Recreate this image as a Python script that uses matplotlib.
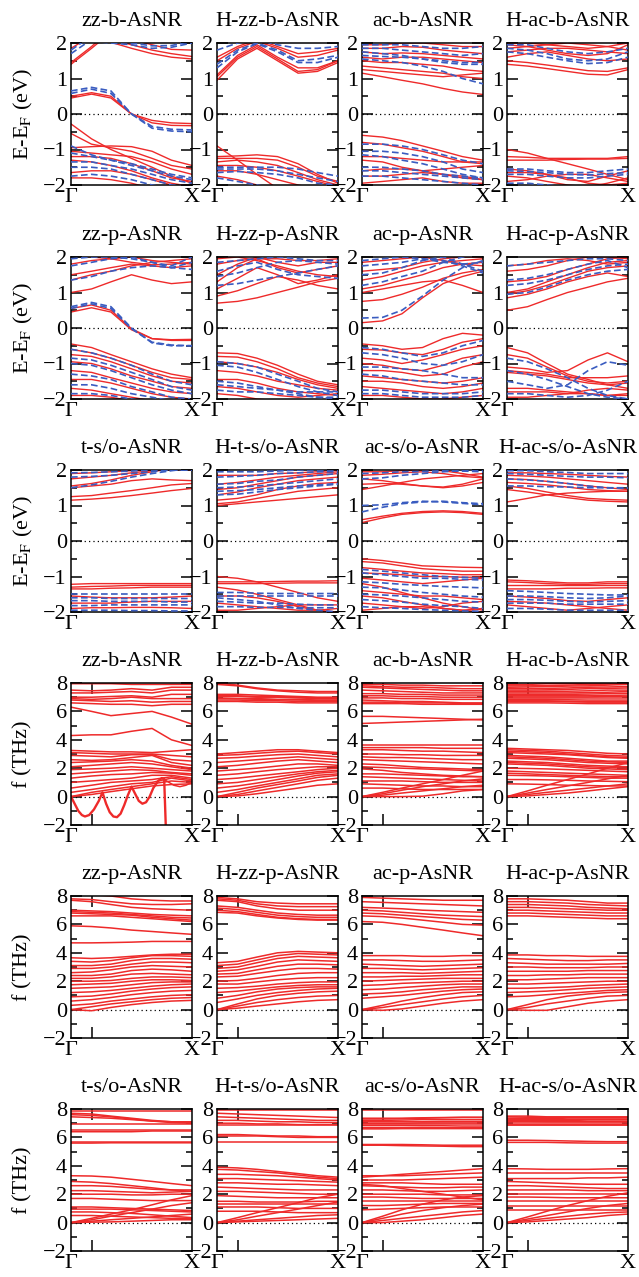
import matplotlib
matplotlib.use("Agg")
import matplotlib.pyplot as plt
from matplotlib.ticker import MultipleLocator

plt.rcParams["font.family"] = ["Liberation Serif", "DejaVu Serif"]
plt.rcParams["mathtext.fontset"] = "stix"

# k-points along Gamma -> X (fraction of path)
K_PTS = [0.0, 0.17, 0.33, 0.5, 0.67, 0.83, 1.0]

# ---------------- electronic bands (eV), red = spin up, blue = spin down
zz_b_up = [
    [1.4, 1.85, 2.3, 2.6, 2.6, 2.6, 2.6], [1.45, 1.9, 2.4, 2.6, 2.6, 2.6, 2.6],
    [1.85, 2.2, 2.6, 2.6, 2.6, 2.6, 2.6], [2.6, 2.3, 2.02, 1.85, 1.7, 1.6, 1.55],
    [2.6, 2.4, 2.1, 1.95, 1.8, 1.7, 1.62], [2.6, 2.6, 2.4, 2.1, 1.95, 1.82, 1.8],
    [0.5, 0.6, 0.5, 0.0, -0.18, -0.25, -0.27], [0.45, 0.56, 0.45, 0.0, -0.25, -0.32, -0.33],
    [-0.28, -0.7, -1.0, -1.25, -1.5, -1.75, -1.95], [-0.55, -0.85, -0.95, -1.05, -1.25, -1.45, -1.55],
    [-0.95, -0.92, -0.9, -0.92, -1.05, -1.3, -1.45], [-1.05, -1.1, -1.15, -1.2, -1.35, -1.55, -1.7],
    [-1.2, -1.2, -1.25, -1.4, -1.6, -1.8, -1.9], [-1.3, -1.35, -1.45, -1.6, -1.8, -1.95, -2.05],
    [-1.65, -1.6, -1.6, -1.7, -1.85, -2.0, -2.1], [-1.8, -1.8, -1.85, -1.95, -2.1, -2.2, -2.2],
]
zz_b_dn = [
    [1.7, 2.1, 2.5, 2.6, 2.6, 2.6, 2.6], [1.8, 2.2, 2.6, 2.6, 2.6, 2.6, 2.6],
    [2.1, 2.05, 2.0, 1.95, 1.85, 1.88, 2.0], [2.2, 2.1, 2.05, 2.0, 1.92, 1.93, 2.05],
    [0.65, 0.75, 0.65, 0.0, -0.35, -0.43, -0.45], [0.58, 0.7, 0.58, 0.0, -0.4, -0.48, -0.5],
    [-0.9, -1.15, -1.3, -1.45, -1.6, -1.75, -1.85], [-1.1, -1.2, -1.3, -1.4, -1.55, -1.7, -1.8],
    [-1.35, -1.35, -1.45, -1.55, -1.7, -1.85, -1.95], [-1.5, -1.5, -1.55, -1.7, -1.85, -2.0, -2.05],
    [-1.75, -1.7, -1.75, -1.85, -2.0, -2.1, -2.15],
]
h_zz_b_up = [
    [0.95, 1.55, 1.85, 1.5, 1.15, 1.2, 1.45], [1.05, 1.6, 1.9, 1.55, 1.2, 1.25, 1.5],
    [1.1, 1.65, 1.95, 1.6, 1.3, 1.3, 1.5], [1.5, 1.85, 2.05, 1.85, 1.6, 1.65, 1.8],
    [1.6, 1.9, 2.1, 1.9, 1.7, 1.75, 1.85],
    [-0.9, -1.3, -1.7, -2.1, -2.3, -2.3, -2.3], [-1.2, -1.18, -1.15, -1.2, -1.4, -1.7, -1.95],
    [-1.25, -1.25, -1.25, -1.3, -1.5, -1.75, -1.9], [-1.35, -1.3, -1.35, -1.45, -1.65, -1.85, -2.0],
    [-1.45, -1.45, -1.5, -1.6, -1.75, -1.9, -2.05], [-1.6, -1.6, -1.7, -1.85, -2.0, -2.1, -2.1],
    [-1.75, -1.85, -2.0, -2.1, -2.2, -2.2, -2.2],
]
h_zz_b_dn = [
    [1.3, 1.75, 1.98, 1.75, 1.45, 1.45, 1.6], [1.4, 1.8, 2.0, 1.8, 1.5, 1.55, 1.65],
    [1.8, 2.0, 2.1, 1.95, 1.85, 1.85, 1.9],
    [-1.5, -1.5, -1.5, -1.5, -1.55, -1.65, -1.75], [-1.55, -1.55, -1.55, -1.6, -1.7, -1.8, -1.9],
    [-1.65, -1.62, -1.65, -1.7, -1.8, -1.95, -2.0], [-1.8, -1.9, -2.0, -2.1, -2.2, -2.2, -2.2],
]
ac_b_up = [
    [1.15, 1.05, 0.95, 0.85, 0.72, 0.62, 0.55], [1.25, 1.2, 1.15, 1.1, 1.05, 1.1, 1.15],
    [1.35, 1.3, 1.25, 1.2, 1.15, 1.05, 1.0], [1.5, 1.45, 1.45, 1.4, 1.35, 1.25, 1.2],
    [1.6, 1.55, 1.6, 1.6, 1.55, 1.5, 1.45], [1.75, 1.7, 1.72, 1.7, 1.65, 1.6, 1.55],
    [1.85, 1.85, 1.9, 1.88, 1.8, 1.75, 1.7], [1.95, 1.95, 2.0, 2.0, 1.95, 1.9, 1.9],
    [-0.6, -0.65, -0.75, -0.9, -1.05, -1.2, -1.3], [-0.8, -0.85, -0.95, -1.05, -1.2, -1.35, -1.4],
    [-1.2, -1.2, -1.25, -1.3, -1.35, -1.35, -1.35], [-1.3, -1.35, -1.5, -1.6, -1.55, -1.5, -1.45],
    [-1.6, -1.55, -1.55, -1.6, -1.7, -1.8, -1.85], [-1.75, -1.75, -1.7, -1.65, -1.7, -1.75, -1.85],
    [-1.95, -1.9, -1.85, -1.8, -1.9, -1.95, -1.95],
]
ac_b_dn = [
    [1.55, 1.5, 1.45, 1.35, 1.2, 1.0, 0.85], [1.75, 1.7, 1.65, 1.55, 1.45, 1.4, 1.4],
    [1.85, 1.85, 1.8, 1.75, 1.7, 1.65, 1.7], [1.95, 1.95, 1.95, 1.9, 1.85, 1.85, 1.9],
    [1.65, 1.62, 1.6, 1.55, 1.5, 1.45, 1.45],
    [-0.85, -0.85, -0.9, -1.0, -1.15, -1.3, -1.4], [-1.05, -1.05, -1.1, -1.2, -1.35, -1.55, -1.65],
    [-1.15, -1.2, -1.3, -1.4, -1.55, -1.7, -1.8], [-1.6, -1.6, -1.65, -1.7, -1.75, -1.8, -1.85],
    [-1.75, -1.75, -1.8, -1.85, -1.9, -1.95, -2.0], [-1.5, -1.5, -1.55, -1.6, -1.7, -1.75, -1.8],
]
h_ac_b_up = [
    [1.4, 1.35, 1.28, 1.2, 1.12, 1.1, 1.25], [1.5, 1.45, 1.38, 1.3, 1.22, 1.2, 1.3],
    [1.6, 1.7, 1.75, 1.65, 1.55, 1.5, 1.55], [1.75, 1.8, 1.85, 1.85, 1.8, 1.75, 1.7],
    [1.85, 1.9, 1.95, 2.0, 1.95, 1.9, 1.8], [1.95, 1.9, 1.8, 1.7, 1.65, 1.7, 1.95],
    [2.0, 2.0, 1.95, 1.9, 1.85, 1.9, 2.0],
    [-1.0, -1.1, -1.25, -1.4, -1.55, -1.7, -1.85], [-1.2, -1.22, -1.25, -1.25, -1.25, -1.25, -1.2],
    [-1.3, -1.3, -1.3, -1.28, -1.27, -1.27, -1.25], [-1.55, -1.6, -1.7, -1.85, -1.9, -1.75, -1.6],
    [-1.65, -1.65, -1.7, -1.8, -1.95, -2.0, -1.95], [-1.9, -1.85, -1.75, -1.7, -1.7, -1.8, -1.9],
    [-1.75, -1.8, -1.9, -2.0, -2.05, -1.95, -1.8],
]
h_ac_b_dn = [
    [1.75, 1.7, 1.6, 1.5, 1.42, 1.45, 1.6], [1.85, 1.8, 1.7, 1.55, 1.5, 1.55, 1.75],
    [1.95, 1.95, 1.85, 1.75, 1.7, 1.75, 1.85],
    [-1.55, -1.55, -1.6, -1.65, -1.65, -1.6, -1.55], [-1.6, -1.62, -1.65, -1.7, -1.72, -1.68, -1.65],
    [-1.7, -1.7, -1.75, -1.8, -1.8, -1.75, -1.7], [-1.95, -1.95, -2.0, -2.05, -2.1, -2.1, -2.1],
]
zz_p_up = [
    [1.0, 1.1, 1.3, 1.5, 1.35, 1.25, 1.3], [1.35, 1.5, 1.6, 1.75, 1.85, 1.9, 1.95],
    [1.5, 1.6, 1.7, 1.8, 1.75, 1.7, 1.75], [1.8, 1.9, 1.95, 2.0, 1.9, 1.85, 1.8],
    [2.05, 2.0, 1.95, 1.85, 1.78, 1.8, 1.85],
    [0.55, 0.65, 0.5, -0.02, -0.3, -0.35, -0.35], [0.45, 0.57, 0.45, -0.05, -0.3, -0.33, -0.32],
    [-0.45, -0.55, -0.75, -0.95, -1.15, -1.3, -1.4], [-0.6, -0.7, -0.85, -1.05, -1.25, -1.4, -1.45],
    [-0.75, -0.8, -0.95, -1.15, -1.35, -1.5, -1.55], [-0.95, -1.0, -1.15, -1.35, -1.5, -1.65, -1.7],
    [-1.2, -1.25, -1.4, -1.55, -1.7, -1.8, -1.85], [-1.45, -1.45, -1.55, -1.7, -1.85, -1.95, -2.0],
    [-1.7, -1.75, -1.85, -1.95, -2.05, -2.1, -2.1], [-1.9, -1.9, -1.95, -2.05, -2.1, -2.1, -2.1],
]
zz_p_dn = [
    [1.35, 1.45, 1.6, 1.7, 1.75, 1.7, 1.85], [1.75, 1.85, 1.95, 2.0, 1.85, 1.7, 1.65],
    [1.95, 2.0, 2.0, 1.95, 1.85, 1.75, 2.0],
    [0.6, 0.72, 0.6, 0.0, -0.42, -0.5, -0.5], [0.55, 0.68, 0.55, -0.02, -0.4, -0.48, -0.5],
    [-0.6, -0.7, -0.85, -1.05, -1.3, -1.5, -1.6], [-0.85, -0.9, -1.05, -1.25, -1.45, -1.65, -1.75],
    [-1.0, -1.05, -1.2, -1.4, -1.6, -1.75, -1.85], [-1.3, -1.35, -1.45, -1.65, -1.8, -1.95, -2.0],
    [-1.6, -1.6, -1.7, -1.85, -1.95, -2.05, -2.1], [-1.85, -1.85, -1.9, -2.0, -2.1, -2.1, -2.1],
]
h_zz_p_up = [
    [0.7, 0.75, 0.85, 1.0, 1.15, 1.3, 1.4], [0.9, 1.05, 1.25, 1.45, 1.35, 1.2, 1.1],
    [1.1, 1.4, 1.7, 1.5, 1.25, 1.35, 1.5], [1.3, 1.7, 1.95, 1.7, 1.55, 1.65, 1.75],
    [1.5, 1.8, 2.0, 1.85, 1.75, 1.85, 1.85], [1.8, 1.9, 1.95, 1.95, 1.9, 1.9, 1.95],
    [1.95, 2.0, 1.9, 1.75, 1.6, 1.5, 1.45],
    [-0.7, -0.72, -0.85, -1.05, -1.3, -1.5, -1.6], [-0.8, -0.82, -0.95, -1.15, -1.4, -1.55, -1.65],
    [-0.95, -1.0, -1.1, -1.25, -1.45, -1.6, -1.7], [-1.2, -1.25, -1.35, -1.5, -1.6, -1.7, -1.75],
    [-1.45, -1.45, -1.55, -1.7, -1.8, -1.85, -1.9], [-1.65, -1.7, -1.8, -1.9, -1.95, -1.9, -1.85],
    [-1.85, -1.9, -2.0, -2.05, -2.1, -2.1, -2.1],
]
h_zz_p_dn = [
    [1.2, 1.25, 1.35, 1.45, 1.55, 1.65, 1.75], [1.45, 1.55, 1.7, 1.85, 1.9, 1.85, 1.8],
    [1.6, 1.75, 1.85, 1.65, 1.5, 1.45, 1.4], [1.85, 1.9, 1.95, 2.0, 1.95, 1.9, 1.9],
    [-0.95, -1.0, -1.1, -1.3, -1.5, -1.7, -1.8], [-1.05, -1.1, -1.25, -1.45, -1.65, -1.8, -1.9],
    [-1.5, -1.55, -1.65, -1.75, -1.85, -1.95, -2.0], [-1.75, -1.8, -1.8, -1.85, -1.9, -1.95, -1.95],
    [-1.6, -1.65, -1.7, -1.75, -1.8, -1.8, -1.8],
]
ac_p_up = [
    [0.15, 0.2, 0.4, 0.85, 1.25, 1.45, 1.6], [1.0, 1.1, 1.2, 1.3, 1.35, 1.2, 1.0],
    [0.75, 0.8, 0.95, 1.15, 1.4, 1.55, 1.65], [1.1, 1.2, 1.35, 1.5, 1.7, 1.8, 1.85],
    [1.35, 1.45, 1.6, 1.75, 1.85, 1.9, 1.95], [1.6, 1.65, 1.7, 1.85, 1.95, 2.0, 2.0],
    [1.85, 1.9, 1.95, 2.0, 1.9, 1.8, 1.75],
    [-0.45, -0.5, -0.6, -0.55, -0.3, -0.15, -0.2], [-0.6, -0.62, -0.7, -0.75, -0.6, -0.4, -0.3],
    [-0.85, -0.9, -1.0, -0.9, -0.75, -0.6, -0.5], [-1.0, -1.05, -1.15, -1.2, -1.05, -0.85, -0.75],
    [-1.2, -1.2, -1.25, -1.35, -1.3, -1.1, -0.95], [-1.35, -1.4, -1.45, -1.5, -1.55, -1.5, -1.4],
    [-1.5, -1.5, -1.55, -1.65, -1.7, -1.65, -1.55], [-1.65, -1.7, -1.75, -1.8, -1.85, -1.8, -1.7],
    [-1.9, -1.9, -1.95, -2.0, -2.0, -1.95, -1.9],
]
ac_p_dn = [
    [0.28, 0.3, 0.5, 0.9, 1.35, 1.7, 1.9], [1.2, 1.3, 1.45, 1.6, 1.85, 2.0, 2.1],
    [1.5, 1.55, 1.7, 1.9, 2.0, 1.8, 1.6], [1.75, 1.8, 1.85, 1.95, 1.9, 1.75, 1.55],
    [1.9, 1.95, 2.0, 1.95, 1.85, 1.8, 1.85],
    [-0.55, -0.6, -0.7, -0.8, -0.7, -0.5, -0.35], [-0.7, -0.75, -0.85, -1.0, -1.05, -0.95, -0.75],
    [-1.1, -1.1, -1.15, -1.2, -1.3, -1.4, -1.4], [-1.3, -1.35, -1.45, -1.5, -1.55, -1.6, -1.6],
    [-1.75, -1.75, -1.8, -1.85, -1.85, -1.85, -1.8], [-1.85, -1.85, -1.9, -1.95, -1.95, -1.95, -1.9],
]
h_ac_p_up = [
    [0.5, 0.6, 0.8, 1.0, 1.15, 1.3, 1.4], [0.85, 0.95, 1.1, 1.3, 1.45, 1.55, 1.45],
    [0.95, 1.05, 1.2, 1.4, 1.6, 1.7, 1.75], [1.0, 1.1, 1.3, 1.5, 1.7, 1.85, 1.9],
    [1.3, 1.35, 1.45, 1.65, 1.8, 1.95, 2.0], [1.6, 1.65, 1.75, 1.9, 2.0, 2.0, 1.95],
    [1.75, 1.8, 1.9, 1.95, 1.9, 1.8, 1.85],
    [-0.55, -0.7, -1.0, -1.3, -1.45, -1.6, -1.7], [-0.75, -0.85, -1.1, -1.35, -1.5, -1.55, -1.5],
    [-1.1, -1.15, -1.25, -1.2, -0.9, -0.7, -0.95], [-1.2, -1.25, -1.3, -1.4, -1.4, -1.4, -1.35],
    [-1.25, -1.3, -1.35, -1.45, -1.55, -1.6, -1.55], [-1.7, -1.7, -1.75, -1.8, -1.85, -1.9, -1.9],
    [-1.8, -1.8, -1.8, -1.85, -1.75, -1.7, -1.75], [-1.95, -1.95, -1.9, -1.85, -1.85, -1.9, -1.85],
]
h_ac_p_dn = [
    [1.2, 1.25, 1.35, 1.5, 1.65, 1.75, 1.8], [1.35, 1.4, 1.5, 1.65, 1.8, 1.9, 1.7],
    [0.95, 1.0, 1.15, 1.35, 1.5, 1.6, 1.65], [1.75, 1.8, 1.85, 1.9, 1.95, 1.95, 1.9],
    [-0.85, -0.95, -1.15, -1.4, -1.7, -1.9, -2.0], [-1.5, -1.6, -1.7, -1.6, -1.2, -0.95, -1.05],
    [-1.2, -1.3, -1.45, -1.65, -1.85, -1.95, -2.0], [-1.85, -1.85, -1.9, -1.95, -1.9, -1.75, -1.5],
]
t_so_up = [
    [1.15, 1.18, 1.22, 1.28, 1.35, 1.42, 1.48], [1.25, 1.28, 1.35, 1.42, 1.5, 1.58, 1.62],
    [1.5, 1.55, 1.6, 1.7, 1.75, 1.72, 1.7], [1.55, 1.62, 1.72, 1.85, 1.95, 2.05, 2.1],
    [1.75, 1.8, 1.85, 1.92, 1.98, 2.0, 2.0], [1.9, 1.92, 1.95, 1.98, 2.0, 2.05, 2.1],
    [-1.22, -1.2, -1.2, -1.2, -1.2, -1.2, -1.2], [-1.3, -1.28, -1.27, -1.25, -1.25, -1.25, -1.25],
    [-1.35, -1.35, -1.33, -1.32, -1.3, -1.3, -1.3], [-1.55, -1.58, -1.6, -1.6, -1.6, -1.58, -1.55],
    [-1.75, -1.75, -1.75, -1.72, -1.7, -1.7, -1.7], [-1.9, -1.88, -1.88, -1.87, -1.87, -1.88, -1.9],
]
t_so_dn = [
    [1.5, 1.58, 1.68, 1.8, 1.9, 1.98, 2.05], [1.8, 1.82, 1.85, 1.9, 1.95, 2.0, 2.0],
    [1.92, 1.93, 1.95, 1.97, 2.0, 2.0, 2.0],
    [-1.5, -1.5, -1.5, -1.5, -1.5, -1.5, -1.5], [-1.6, -1.6, -1.62, -1.62, -1.62, -1.62, -1.62],
    [-1.68, -1.68, -1.7, -1.7, -1.7, -1.72, -1.72], [-1.82, -1.82, -1.8, -1.8, -1.8, -1.8, -1.8],
    [-1.95, -1.95, -1.95, -1.96, -1.96, -1.97, -1.97],
]
h_t_so_up = [
    [1.0, 1.05, 1.1, 1.15, 1.2, 1.25, 1.3], [1.05, 1.1, 1.2, 1.3, 1.4, 1.45, 1.5],
    [1.15, 1.2, 1.3, 1.45, 1.55, 1.62, 1.65], [1.3, 1.38, 1.5, 1.6, 1.7, 1.75, 1.8],
    [1.45, 1.5, 1.6, 1.7, 1.8, 1.85, 1.9], [1.6, 1.65, 1.72, 1.8, 1.85, 1.9, 1.95],
    [1.85, 1.85, 1.85, 1.9, 1.92, 1.95, 2.0],
    [-1.0, -1.05, -1.15, -1.3, -1.45, -1.6, -1.7], [-1.15, -1.15, -1.15, -1.14, -1.13, -1.13, -1.12],
    [-1.2, -1.2, -1.2, -1.19, -1.18, -1.18, -1.18], [-1.3, -1.38, -1.5, -1.65, -1.8, -1.95, -2.0],
    [-1.55, -1.55, -1.6, -1.7, -1.85, -1.95, -2.05], [-1.75, -1.8, -1.85, -1.9, -1.95, -1.95, -1.9],
    [-1.95, -1.95, -1.9, -1.85, -1.8, -1.8, -1.8],
]
h_t_so_dn = [
    [1.3, 1.32, 1.38, 1.45, 1.5, 1.55, 1.6], [1.5, 1.52, 1.55, 1.6, 1.65, 1.7, 1.75],
    [1.6, 1.62, 1.68, 1.72, 1.8, 1.85, 1.9], [1.8, 1.82, 1.85, 1.9, 1.92, 1.95, 1.95],
    [1.95, 1.95, 1.95, 1.97, 2.0, 2.0, 2.0], [1.4, 1.42, 1.45, 1.5, 1.55, 1.58, 1.62],
    [-1.45, -1.45, -1.47, -1.48, -1.48, -1.48, -1.48], [-1.55, -1.55, -1.55, -1.55, -1.55, -1.55, -1.55],
    [-1.7, -1.72, -1.75, -1.75, -1.78, -1.8, -1.8], [-1.85, -1.85, -1.87, -1.87, -1.88, -1.88, -1.88],
    [-1.6, -1.65, -1.7, -1.8, -1.9, -1.95, -2.0],
]
ac_so_up = [
    [0.52, 0.65, 0.75, 0.8, 0.82, 0.8, 0.75], [0.6, 0.7, 0.78, 0.83, 0.85, 0.83, 0.78],
    [1.45, 1.55, 1.65, 1.75, 1.8, 1.85, 1.9], [1.6, 1.62, 1.6, 1.55, 1.5, 1.55, 1.65],
    [1.75, 1.7, 1.62, 1.55, 1.52, 1.6, 1.75], [1.85, 1.88, 1.92, 1.95, 1.9, 1.82, 1.78],
    [1.95, 1.95, 1.98, 2.0, 1.98, 1.9, 1.8],
    [-0.5, -0.55, -0.62, -0.7, -0.72, -0.74, -0.75], [-0.58, -0.62, -0.7, -0.78, -0.82, -0.85, -0.85],
    [-0.75, -0.8, -0.85, -0.9, -0.92, -0.95, -0.95], [-0.9, -0.92, -0.95, -1.0, -1.0, -1.02, -1.02],
    [-1.05, -1.1, -1.15, -1.2, -1.15, -1.1, -1.05], [-1.2, -1.3, -1.45, -1.6, -1.75, -1.85, -1.95],
    [-1.4, -1.45, -1.5, -1.55, -1.55, -1.6, -1.65], [-1.55, -1.6, -1.7, -1.8, -1.9, -1.95, -1.9],
    [-1.75, -1.8, -1.85, -1.9, -1.85, -1.75, -1.7], [-1.95, -1.9, -1.85, -1.85, -1.9, -1.95, -2.0],
]
ac_so_dn = [
    [0.82, 0.95, 1.05, 1.1, 1.12, 1.08, 1.05], [1.0, 1.02, 1.08, 1.12, 1.1, 1.06, 1.02],
    [1.75, 1.78, 1.85, 1.9, 1.95, 1.98, 2.0], [1.9, 1.92, 1.95, 1.96, 1.98, 1.97, 1.95],
    [-0.8, -0.85, -0.9, -0.95, -1.0, -1.02, -1.05], [-0.9, -0.95, -1.0, -1.05, -1.05, -1.08, -1.1],
    [-1.15, -1.18, -1.22, -1.25, -1.28, -1.3, -1.32], [-1.3, -1.32, -1.38, -1.45, -1.5, -1.55, -1.58],
    [-1.5, -1.52, -1.55, -1.6, -1.65, -1.7, -1.72], [-1.65, -1.68, -1.72, -1.78, -1.82, -1.85, -1.9],
    [-1.85, -1.88, -1.9, -1.93, -1.95, -1.97, -1.98],
]
h_ac_so_up = [
    [1.1, 1.2, 1.3, 1.35, 1.38, 1.4, 1.4], [1.45, 1.38, 1.3, 1.22, 1.15, 1.12, 1.1],
    [1.55, 1.48, 1.38, 1.28, 1.2, 1.17, 1.15], [1.65, 1.62, 1.58, 1.52, 1.45, 1.42, 1.4],
    [1.75, 1.73, 1.68, 1.62, 1.55, 1.5, 1.45], [1.85, 1.83, 1.8, 1.75, 1.7, 1.65, 1.6],
    [1.92, 1.92, 1.9, 1.88, 1.85, 1.82, 1.8],
    [-1.1, -1.12, -1.15, -1.18, -1.18, -1.15, -1.15], [-1.15, -1.17, -1.2, -1.22, -1.22, -1.2, -1.2],
    [-1.25, -1.25, -1.25, -1.25, -1.25, -1.25, -1.25], [-1.35, -1.35, -1.35, -1.33, -1.33, -1.32, -1.32],
    [-1.55, -1.58, -1.62, -1.68, -1.7, -1.65, -1.6], [-1.7, -1.72, -1.75, -1.8, -1.85, -1.9, -1.95],
    [-1.8, -1.85, -1.9, -1.95, -1.9, -1.85, -1.8],
]
h_ac_so_dn = [
    [1.55, 1.55, 1.53, 1.52, 1.5, 1.5, 1.48], [1.75, 1.72, 1.68, 1.62, 1.55, 1.5, 1.5],
    [1.9, 1.88, 1.85, 1.82, 1.8, 1.8, 1.78], [1.98, 1.98, 1.95, 1.93, 1.9, 1.9, 1.9],
    [-1.4, -1.42, -1.45, -1.48, -1.5, -1.52, -1.52], [-1.55, -1.55, -1.57, -1.6, -1.62, -1.6, -1.55],
    [-1.65, -1.65, -1.67, -1.7, -1.72, -1.7, -1.68], [-1.75, -1.75, -1.75, -1.78, -1.78, -1.78, -1.78],
    [-1.9, -1.9, -1.92, -1.95, -1.95, -1.95, -1.95],
]

# ---------------- phonon bands (THz)
ph_zz_b = [
    [7.95, 7.95, 7.95, 7.9, 7.9, 7.9, 7.9], [7.5, 7.45, 7.5, 7.6, 7.5, 7.7, 7.7],
    [7.3, 7.3, 7.35, 7.4, 7.3, 7.5, 7.5], [7.0, 7.0, 7.05, 7.1, 7.0, 7.2, 7.2],
    [6.9, 6.85, 6.9, 7.0, 6.9, 6.9, 6.9], [6.8, 6.75, 6.7, 6.75, 6.65, 6.7, 6.7],
    [6.6, 6.55, 6.5, 6.5, 6.4, 6.5, 6.5], [6.3, 6.0, 5.7, 5.85, 6.0, 5.6, 5.1],
    [4.3, 4.35, 4.35, 4.6, 4.8, 4.0, 3.6], [3.25, 3.2, 3.15, 3.15, 3.1, 3.2, 3.3],
    [3.1, 3.05, 3.0, 3.0, 3.0, 2.9, 2.8], [2.9, 2.85, 2.8, 2.95, 2.95, 2.6, 2.5],
    [2.6, 2.55, 2.6, 2.75, 2.9, 2.4, 2.2], [2.4, 2.45, 2.5, 2.6, 2.5, 2.2, 2.0],
    [2.1, 2.2, 2.3, 2.4, 2.3, 2.1, 1.9], [1.9, 1.95, 2.0, 2.1, 2.0, 1.9, 1.8],
    [1.6, 1.7, 1.8, 1.9, 1.85, 1.7, 1.6], [1.3, 1.45, 1.55, 1.6, 1.7, 1.65, 1.5],
    [1.0, 1.1, 1.2, 1.3, 1.5, 1.5, 1.3], [0.6, 0.8, 1.0, 1.1, 1.2, 1.4, 1.2],
    [0.3, 0.5, 0.7, 0.9, 1.0, 1.3, 1.1], [0.0, 0.3, 0.5, 0.7, 0.9, 1.1, 1.0],
    [0.0, 0.15, 0.35, 0.55, 0.75, 0.85, 0.9],
]
# soft (imaginary) modes of zz-b-AsNR, read on their own k-points
zz_b_soft_k = [0.0, 0.03, 0.06, 0.09, 0.115, 0.15, 0.19, 0.23, 0.26, 0.29, 0.32, 0.35,
               0.38, 0.41, 0.44, 0.47, 0.5, 0.53, 0.56, 0.59, 0.62, 0.65, 0.68, 0.72,
               0.75, 0.77, 0.775, 0.785]
zz_b_soft_f = [0.0, -0.5, -1.0, -1.3, -1.4, -1.3, -0.9, -0.3, 0.3, -0.5, -1.1, -1.4,
               -1.45, -1.2, -0.6, 0.1, 0.7, 0.2, -0.3, -0.5, -0.4, 0.0, 0.6, 1.1,
               1.3, 1.25, 0.0, -2.5]
zz_b_kink_k = [0.75, 0.8, 0.85, 0.9, 0.95, 1.0]
zz_b_kink_f = [1.3, 1.05, 0.8, 0.7, 0.8, 1.0]

ph_h_zz_b = [
    [8.0, 7.85, 7.65, 7.5, 7.45, 7.4, 7.4], [7.9, 7.8, 7.6, 7.45, 7.35, 7.3, 7.3],
    [7.2, 7.2, 7.15, 7.1, 7.05, 7.0, 7.0], [7.05, 7.05, 7.0, 7.0, 6.95, 6.9, 6.9],
    [6.95, 6.9, 6.9, 6.85, 6.85, 6.8, 6.8], [6.8, 6.8, 6.75, 6.75, 6.7, 6.7, 6.7],
    [6.7, 6.7, 6.65, 6.65, 6.6, 6.6, 6.6], [7.1, 7.1, 7.05, 7.05, 7.0, 6.95, 6.95],
    [6.9, 6.9, 6.85, 6.82, 6.8, 6.78, 6.78],
    [3.0, 3.1, 3.2, 3.3, 3.3, 3.2, 3.1], [2.9, 2.95, 3.05, 3.15, 3.2, 3.1, 3.0],
    [2.7, 2.75, 2.85, 2.95, 3.0, 2.9, 2.8], [2.4, 2.5, 2.6, 2.7, 2.8, 2.7, 2.6],
    [2.1, 2.2, 2.35, 2.5, 2.6, 2.5, 2.4], [1.8, 1.9, 2.0, 2.15, 2.3, 2.3, 2.2],
    [1.5, 1.6, 1.75, 1.9, 2.0, 2.1, 2.1], [1.2, 1.3, 1.45, 1.6, 1.75, 1.9, 2.0],
    [0.9, 1.0, 1.2, 1.4, 1.6, 1.75, 1.85], [0.6, 0.75, 0.95, 1.2, 1.45, 1.65, 1.75],
    [0.3, 0.5, 0.75, 1.0, 1.25, 1.5, 1.6], [0.0, 0.3, 0.6, 0.85, 1.1, 1.35, 1.5],
    [0.0, 0.15, 0.4, 0.65, 0.9, 1.15, 1.3], [0.0, 0.05, 0.2, 0.4, 0.6, 0.8, 0.9],
]
ph_ac_b = [
    [7.9, 7.9, 7.85, 7.85, 7.8, 7.8, 7.8], [7.7, 7.65, 7.6, 7.55, 7.5, 7.45, 7.45],
    [7.5, 7.45, 7.4, 7.35, 7.3, 7.3, 7.3], [7.1, 7.1, 7.05, 7.05, 7.0, 7.0, 7.0],
    [6.95, 6.95, 6.9, 6.9, 6.85, 6.85, 6.85], [6.8, 6.75, 6.7, 6.7, 6.65, 6.6, 6.6],
    [6.55, 6.55, 6.55, 6.5, 6.5, 6.5, 6.5], [7.8, 7.75, 7.7, 7.7, 7.65, 7.6, 7.6],
    [7.25, 7.25, 7.2, 7.2, 7.15, 7.15, 7.15], [6.65, 6.65, 6.6, 6.6, 6.6, 6.55, 6.55],
    [5.65, 5.65, 5.6, 5.55, 5.5, 5.45, 5.4],
    [5.15, 5.2, 5.25, 5.3, 5.35, 5.4, 5.45], [3.6, 3.6, 3.6, 3.6, 3.6, 3.6, 3.6],
    [3.45, 3.45, 3.45, 3.45, 3.4, 3.4, 3.4], [3.3, 3.3, 3.25, 3.2, 3.2, 3.15, 3.1],
    [3.0, 3.0, 2.95, 2.95, 2.9, 2.9, 2.9],
    [2.8, 2.75, 2.75, 2.7, 2.65, 2.6, 2.6], [2.6, 2.55, 2.5, 2.45, 2.4, 2.35, 2.3],
    [2.3, 2.25, 2.15, 2.05, 2.0, 1.95, 1.9], [2.1, 2.05, 2.0, 1.95, 1.9, 1.85, 1.8],
    [1.95, 1.85, 1.7, 1.6, 1.5, 1.45, 1.4], [1.6, 1.6, 1.55, 1.5, 1.45, 1.4, 1.4],
    [1.4, 1.35, 1.3, 1.25, 1.2, 1.15, 1.1], [1.1, 1.1, 1.1, 1.05, 1.0, 1.0, 1.0],
    [0.0, 0.3, 0.6, 0.9, 1.2, 1.5, 1.8], [0.0, 0.2, 0.45, 0.7, 0.9, 1.1, 1.25],
    [0.0, 0.1, 0.25, 0.4, 0.55, 0.7, 0.8], [0.0, 0.0, 0.0, 0.03, 0.2, 0.4, 0.5],
    [0.9, 0.85, 0.8, 0.75, 0.75, 0.7, 0.7], [0.6, 0.6, 0.55, 0.5, 0.5, 0.5, 0.5],
]
ph_h_ac_b = [
    [7.9, 7.9, 7.95, 7.95, 8.0, 8.0, 8.0], [7.7, 7.72, 7.75, 7.78, 7.8, 7.85, 7.9],
    [7.5, 7.5, 7.52, 7.55, 7.6, 7.62, 7.65], [7.3, 7.3, 7.3, 7.3, 7.32, 7.35, 7.4],
    [7.1, 7.1, 7.1, 7.1, 7.1, 7.12, 7.15], [6.95, 6.95, 6.95, 6.95, 6.95, 6.95, 6.95],
    [6.85, 6.85, 6.85, 6.82, 6.8, 6.8, 6.8], [6.7, 6.7, 6.7, 6.68, 6.65, 6.65, 6.65],
    [6.6, 6.6, 6.6, 6.58, 6.55, 6.55, 6.55], [7.8, 7.8, 7.82, 7.85, 7.9, 7.92, 7.95],
    [7.6, 7.6, 7.62, 7.65, 7.7, 7.72, 7.75], [7.4, 7.4, 7.42, 7.42, 7.45, 7.5, 7.5],
    [7.2, 7.2, 7.2, 7.2, 7.22, 7.25, 7.28], [7.02, 7.02, 7.02, 7.02, 7.02, 7.05, 7.05],
    [6.75, 6.75, 6.75, 6.72, 6.7, 6.7, 6.7],
    [3.4, 3.35, 3.3, 3.25, 3.15, 3.05, 3.0], [3.3, 3.25, 3.2, 3.1, 3.0, 2.9, 2.85],
    [3.2, 3.15, 3.1, 3.0, 2.9, 2.8, 2.75],
    [3.1, 3.05, 3.0, 2.95, 2.85, 2.75, 2.7], [2.9, 2.85, 2.8, 2.7, 2.6, 2.5, 2.5],
    [2.8, 2.75, 2.7, 2.6, 2.5, 2.45, 2.4],
    [2.7, 2.65, 2.6, 2.5, 2.4, 2.35, 2.3], [2.5, 2.45, 2.4, 2.3, 2.2, 2.15, 2.1],
    [2.4, 2.35, 2.3, 2.2, 2.1, 2.05, 2.0],
    [2.3, 2.25, 2.2, 2.1, 2.0, 1.95, 1.9], [2.0, 1.98, 1.95, 1.9, 1.85, 1.8, 1.75],
    [1.8, 1.75, 1.7, 1.65, 1.6, 1.55, 1.5], [1.65, 1.6, 1.55, 1.5, 1.45, 1.4, 1.4],
    [1.5, 1.48, 1.45, 1.4, 1.35, 1.3, 1.3],
    [1.2, 1.2, 1.18, 1.15, 1.1, 1.08, 1.05], [0.0, 0.4, 0.8, 1.2, 1.6, 2.0, 2.4],
    [0.0, 0.25, 0.5, 0.75, 1.0, 1.25, 1.5], [0.0, 0.15, 0.3, 0.45, 0.6, 0.75, 0.9],
    [0.0, 0.05, 0.15, 0.25, 0.4, 0.55, 0.7], [0.9, 0.88, 0.85, 0.8, 0.78, 0.75, 0.75],
]
ph_zz_p = [
    [7.8, 7.75, 7.6, 7.45, 7.4, 7.4, 7.45], [7.7, 7.6, 7.4, 7.2, 7.1, 7.05, 7.0],
    [8.1, 8.1, 8.0, 7.8, 7.7, 7.65, 7.65], [7.0, 6.95, 6.9, 6.8, 6.7, 6.65, 6.6],
    [6.9, 6.85, 6.8, 6.7, 6.6, 6.5, 6.45], [6.8, 6.75, 6.7, 6.65, 6.5, 6.4, 6.3],
    [6.6, 6.6, 6.6, 6.5, 6.4, 6.3, 6.2], [5.9, 5.85, 5.75, 5.6, 5.5, 5.4, 5.3],
    [4.7, 4.7, 4.72, 4.75, 4.8, 4.8, 4.8], [3.65, 3.6, 3.65, 3.75, 3.85, 3.9, 3.9],
    [3.4, 3.35, 3.45, 3.65, 3.8, 3.8, 3.75], [3.1, 3.1, 3.2, 3.45, 3.6, 3.6, 3.55],
    [2.9, 2.9, 3.0, 3.2, 3.35, 3.35, 3.3], [2.6, 2.65, 2.8, 3.0, 3.1, 3.05, 3.0],
    [2.4, 2.4, 2.5, 2.75, 2.85, 2.8, 2.7], [2.2, 2.2, 2.3, 2.5, 2.55, 2.5, 2.45],
    [2.0, 2.0, 2.05, 2.2, 2.3, 2.3, 2.25], [1.75, 1.8, 1.85, 2.0, 2.1, 2.1, 2.05],
    [1.5, 1.55, 1.6, 1.75, 1.9, 1.95, 1.95], [1.2, 1.25, 1.35, 1.5, 1.65, 1.75, 1.8],
    [0.9, 0.95, 1.1, 1.3, 1.45, 1.55, 1.6], [0.6, 0.7, 0.85, 1.05, 1.2, 1.3, 1.35],
    [0.3, 0.4, 0.6, 0.75, 0.9, 1.0, 1.05], [0.0, 0.2, 0.4, 0.55, 0.7, 0.8, 0.85],
    [0.0, -0.08, 0.15, 0.35, 0.5, 0.6, 0.65],
]
ph_h_zz_p = [
    [7.9, 7.8, 7.6, 7.5, 7.45, 7.45, 7.45], [7.8, 7.7, 7.45, 7.3, 7.25, 7.25, 7.25],
    [7.7, 7.6, 7.3, 7.1, 7.0, 7.0, 7.0], [7.3, 7.2, 7.0, 6.8, 6.7, 6.65, 6.65],
    [7.15, 7.05, 6.85, 6.65, 6.55, 6.5, 6.5], [7.0, 6.9, 6.7, 6.5, 6.4, 6.35, 6.35],
    [6.85, 6.8, 6.6, 6.45, 6.35, 6.3, 6.3],
    [3.3, 3.4, 3.7, 4.0, 4.1, 4.05, 4.0], [3.1, 3.2, 3.5, 3.8, 3.95, 3.9, 3.85],
    [2.9, 3.0, 3.3, 3.6, 3.75, 3.7, 3.65], [2.7, 2.8, 3.05, 3.35, 3.5, 3.45, 3.4],
    [2.5, 2.55, 2.8, 3.05, 3.2, 3.2, 3.15], [2.3, 2.35, 2.55, 2.75, 2.9, 2.9, 2.85],
    [2.0, 2.05, 2.2, 2.4, 2.55, 2.6, 2.6], [1.8, 1.8, 1.95, 2.1, 2.2, 2.25, 2.25],
    [1.5, 1.55, 1.65, 1.8, 1.9, 1.95, 1.95], [1.2, 1.3, 1.45, 1.6, 1.7, 1.75, 1.75],
    [0.8, 1.0, 1.25, 1.45, 1.55, 1.6, 1.6], [0.5, 0.75, 1.0, 1.2, 1.35, 1.45, 1.5],
    [0.0, 0.4, 0.75, 1.0, 1.15, 1.25, 1.3], [0.0, 0.25, 0.5, 0.7, 0.85, 0.95, 1.0],
    [0.0, 0.1, 0.25, 0.4, 0.55, 0.65, 0.7],
]
ph_ac_p = [
    [7.9, 7.85, 7.8, 7.75, 7.7, 7.7, 7.7], [7.6, 7.55, 7.5, 7.45, 7.4, 7.35, 7.3],
    [7.2, 7.15, 7.1, 7.0, 6.95, 6.9, 6.85], [7.0, 6.95, 6.85, 6.75, 6.65, 6.6, 6.55],
    [6.8, 6.75, 6.65, 6.55, 6.45, 6.35, 6.3], [6.6, 6.55, 6.45, 6.3, 6.15, 6.0, 5.95],
    [6.2, 6.15, 6.0, 5.8, 5.6, 5.4, 5.2],
    [3.8, 3.8, 3.8, 3.75, 3.75, 3.8, 3.8], [3.5, 3.5, 3.45, 3.4, 3.4, 3.45, 3.5],
    [3.2, 3.15, 3.1, 3.05, 3.1, 3.15, 3.2], [2.9, 2.9, 2.85, 2.8, 2.85, 2.9, 2.95],
    [2.6, 2.6, 2.6, 2.55, 2.6, 2.65, 2.7], [2.3, 2.3, 2.35, 2.35, 2.4, 2.45, 2.45],
    [2.0, 2.05, 2.1, 2.15, 2.2, 2.2, 2.2], [1.7, 1.75, 1.85, 1.9, 1.95, 2.0, 2.0],
    [1.4, 1.45, 1.55, 1.65, 1.75, 1.8, 1.8], [1.1, 1.15, 1.25, 1.4, 1.5, 1.6, 1.6],
    [0.8, 0.9, 1.0, 1.15, 1.3, 1.4, 1.45], [0.0, 0.3, 0.6, 0.85, 1.05, 1.2, 1.25],
    [0.0, 0.15, 0.35, 0.55, 0.75, 0.9, 1.0], [0.0, -0.05, 0.05, 0.25, 0.45, 0.6, 0.7],
]
ph_h_ac_p = [
    [7.8, 7.8, 7.75, 7.7, 7.6, 7.5, 7.5], [7.6, 7.6, 7.55, 7.5, 7.4, 7.35, 7.3],
    [7.4, 7.4, 7.35, 7.3, 7.2, 7.15, 7.1], [7.2, 7.2, 7.15, 7.1, 7.05, 7.0, 7.0],
    [7.0, 7.0, 6.95, 6.9, 6.85, 6.8, 6.8], [6.8, 6.8, 6.75, 6.7, 6.65, 6.6, 6.6],
    [6.6, 6.6, 6.55, 6.5, 6.45, 6.4, 6.4],
    [3.85, 3.85, 3.8, 3.8, 3.75, 3.75, 3.75], [3.6, 3.55, 3.5, 3.45, 3.45, 3.5, 3.5],
    [3.3, 3.25, 3.2, 3.2, 3.2, 3.2, 3.25], [3.0, 3.0, 2.95, 2.95, 2.95, 3.0, 3.0],
    [2.7, 2.7, 2.7, 2.7, 2.75, 2.75, 2.75], [2.4, 2.4, 2.45, 2.45, 2.5, 2.5, 2.5],
    [2.1, 2.1, 2.15, 2.2, 2.25, 2.25, 2.25], [1.8, 1.8, 1.85, 1.9, 1.95, 2.0, 2.0],
    [1.5, 1.5, 1.55, 1.6, 1.7, 1.75, 1.8], [1.2, 1.25, 1.3, 1.4, 1.5, 1.55, 1.6],
    [0.9, 0.95, 1.05, 1.15, 1.25, 1.35, 1.4], [0.0, 0.35, 0.7, 0.95, 1.1, 1.2, 1.25],
    [0.0, 0.15, 0.4, 0.6, 0.8, 0.95, 1.0], [0.0, -0.05, -0.05, 0.2, 0.45, 0.6, 0.7],
]
ph_t_so = [
    [7.7, 7.65, 7.5, 7.35, 7.2, 7.1, 7.05], [7.6, 7.55, 7.45, 7.3, 7.15, 7.05, 7.0],
    [7.45, 7.4, 7.35, 7.25, 7.15, 7.1, 7.1], [7.85, 7.85, 7.85, 7.85, 7.85, 7.85, 7.85],
    [6.95, 6.95, 6.95, 6.95, 6.95, 6.95, 6.95], [6.55, 6.55, 6.55, 6.55, 6.55, 6.55, 6.55],
    [6.4, 6.4, 6.4, 6.4, 6.45, 6.45, 6.45], [5.7, 5.7, 5.7, 5.7, 5.7, 5.7, 5.7],
    [5.6, 5.6, 5.62, 5.62, 5.62, 5.62, 5.62],
    [3.3, 3.28, 3.2, 3.05, 2.9, 2.75, 2.6], [2.9, 2.85, 2.75, 2.6, 2.45, 2.3, 2.2],
    [2.6, 2.6, 2.55, 2.45, 2.35, 2.3, 2.3], [2.25, 2.25, 2.2, 2.15, 2.1, 2.15, 2.2],
    [2.0, 2.0, 2.0, 1.95, 1.95, 2.0, 2.0], [1.7, 1.7, 1.65, 1.6, 1.55, 1.55, 1.55],
    [1.1, 1.1, 1.05, 1.0, 0.95, 0.9, 0.85], [0.95, 0.95, 0.95, 0.9, 0.85, 0.8, 0.75],
    [0.75, 0.75, 0.7, 0.65, 0.55, 0.45, 0.35], [0.5, 0.5, 0.45, 0.4, 0.35, 0.3, 0.3],
    [0.0, 0.3, 0.6, 0.9, 1.25, 1.6, 1.9], [0.0, 0.2, 0.45, 0.7, 0.95, 1.2, 1.4],
    [0.0, 0.1, 0.2, 0.3, 0.4, 0.5, 0.6], [0.0, 0.03, 0.05, 0.1, 0.15, 0.2, 0.2],
]
ph_h_t_so = [
    [7.95, 7.95, 7.95, 7.95, 7.95, 7.95, 7.95], [7.7, 7.65, 7.6, 7.55, 7.5, 7.45, 7.4],
    [7.45, 7.4, 7.35, 7.3, 7.25, 7.2, 7.2], [7.2, 7.2, 7.15, 7.1, 7.1, 7.05, 7.05],
    [7.0, 7.0, 6.95, 6.95, 6.9, 6.9, 6.9], [6.85, 6.85, 6.85, 6.85, 6.85, 6.85, 6.85],
    [6.2, 6.2, 6.15, 6.1, 6.1, 6.05, 6.05], [6.1, 6.1, 6.1, 6.05, 6.0, 6.0, 6.0],
    [5.65, 5.65, 5.65, 5.65, 5.65, 5.65, 5.65],
    [3.9, 3.85, 3.75, 3.6, 3.45, 3.3, 3.2], [3.75, 3.7, 3.6, 3.5, 3.35, 3.2, 3.1],
    [3.4, 3.4, 3.35, 3.3, 3.2, 3.1, 3.0], [3.1, 3.1, 3.05, 3.0, 2.95, 2.9, 2.85],
    [2.8, 2.8, 2.75, 2.7, 2.7, 2.65, 2.6], [2.5, 2.45, 2.4, 2.35, 2.3, 2.3, 2.3],
    [2.2, 2.2, 2.15, 2.1, 2.05, 2.0, 2.0], [1.9, 1.85, 1.8, 1.75, 1.75, 1.75, 1.75],
    [1.5, 1.5, 1.45, 1.45, 1.45, 1.5, 1.5], [1.3, 1.3, 1.3, 1.3, 1.3, 1.3, 1.3],
    [1.1, 1.1, 1.1, 1.05, 1.0, 1.0, 1.0], [0.8, 0.8, 0.8, 0.75, 0.7, 0.7, 0.7],
    [0.0, 0.35, 0.7, 1.05, 1.4, 1.75, 2.0], [0.0, 0.2, 0.45, 0.7, 0.95, 1.2, 1.45],
    [0.0, 0.1, 0.2, 0.3, 0.4, 0.5, 0.55], [0.0, 0.05, 0.1, 0.15, 0.2, 0.25, 0.3],
]
ph_ac_so = [
    [7.95, 7.95, 7.95, 7.95, 7.95, 7.95, 7.95], [7.3, 7.3, 7.32, 7.35, 7.38, 7.4, 7.4],
    [7.2, 7.2, 7.22, 7.25, 7.25, 7.25, 7.25], [7.1, 7.1, 7.1, 7.1, 7.12, 7.12, 7.12],
    [6.95, 6.95, 6.95, 6.95, 6.95, 6.95, 6.95], [6.85, 6.85, 6.85, 6.83, 6.82, 6.8, 6.8],
    [6.7, 6.7, 6.7, 6.7, 6.68, 6.68, 6.68], [6.6, 6.6, 6.62, 6.62, 6.62, 6.62, 6.62],
    [7.35, 7.35, 7.35, 7.38, 7.4, 7.42, 7.42], [7.0, 7.0, 7.0, 7.02, 7.02, 7.02, 7.02],
    [6.65, 6.65, 6.65, 6.65, 6.65, 6.65, 6.65],
    [5.5, 5.5, 5.5, 5.48, 5.45, 5.45, 5.45], [5.45, 5.45, 5.42, 5.4, 5.38, 5.35, 5.35],
    [3.2, 3.3, 3.4, 3.5, 3.6, 3.7, 3.8], [3.3, 3.3, 3.3, 3.35, 3.4, 3.45, 3.5],
    [3.0, 3.0, 3.0, 3.05, 3.1, 3.15, 3.2], [2.8, 2.8, 2.8, 2.75, 2.7, 2.7, 2.7],
    [2.6, 2.55, 2.5, 2.45, 2.45, 2.5, 2.5], [2.3, 2.3, 2.25, 2.2, 2.2, 2.25, 2.3],
    [2.0, 2.0, 2.0, 2.0, 1.95, 1.95, 1.95], [1.8, 1.8, 1.75, 1.7, 1.7, 1.7, 1.7],
    [1.5, 1.5, 1.5, 1.5, 1.5, 1.5, 1.5], [1.2, 1.2, 1.25, 1.3, 1.35, 1.35, 1.35],
    [0.9, 0.95, 1.0, 1.05, 1.1, 1.1, 1.1], [0.0, 0.45, 0.9, 1.3, 1.6, 1.8, 1.9],
    [0.0, 0.3, 0.6, 0.85, 1.05, 1.2, 1.3], [0.0, 0.15, 0.3, 0.45, 0.6, 0.75, 0.85],
    [0.0, 0.0, 0.1, 0.2, 0.35, 0.5, 0.6], [2.7, 2.6, 2.4, 2.2, 2.0, 1.8, 1.6],
]
ph_h_ac_so = [
    [7.5, 7.5, 7.45, 7.45, 7.45, 7.45, 7.45], [7.35, 7.35, 7.35, 7.3, 7.3, 7.3, 7.3],
    [7.2, 7.2, 7.2, 7.2, 7.15, 7.15, 7.15], [7.05, 7.05, 7.05, 7.05, 7.05, 7.05, 7.05],
    [6.95, 6.95, 6.95, 6.95, 6.95, 6.95, 6.95], [6.85, 6.85, 6.85, 6.85, 6.85, 6.85, 6.85],
    [7.45, 7.42, 7.4, 7.4, 7.4, 7.4, 7.4], [7.28, 7.28, 7.25, 7.25, 7.25, 7.25, 7.25],
    [7.12, 7.12, 7.1, 7.1, 7.1, 7.1, 7.1], [6.9, 6.9, 6.9, 6.9, 6.9, 6.9, 6.9],
    [5.8, 5.8, 5.78, 5.75, 5.72, 5.7, 5.7], [5.65, 5.65, 5.65, 5.62, 5.6, 5.6, 5.6],
    [3.8, 3.78, 3.75, 3.75, 3.75, 3.78, 3.8], [3.5, 3.5, 3.5, 3.5, 3.5, 3.5, 3.5],
    [3.1, 3.1, 3.1, 3.1, 3.15, 3.15, 3.2], [2.9, 2.85, 2.8, 2.75, 2.7, 2.7, 2.7],
    [2.6, 2.6, 2.55, 2.5, 2.45, 2.4, 2.4], [2.3, 2.3, 2.3, 2.3, 2.25, 2.25, 2.25],
    [2.0, 2.0, 2.0, 2.0, 2.0, 2.0, 2.0], [1.8, 1.8, 1.78, 1.75, 1.75, 1.75, 1.75],
    [1.5, 1.5, 1.5, 1.5, 1.5, 1.5, 1.5], [1.2, 1.2, 1.2, 1.2, 1.2, 1.2, 1.2],
    [0.9, 0.9, 0.9, 0.9, 0.9, 0.9, 0.9], [0.0, 0.4, 0.8, 1.2, 1.55, 1.85, 2.1],
    [0.0, 0.25, 0.5, 0.75, 1.0, 1.2, 1.35], [0.0, 0.15, 0.3, 0.45, 0.6, 0.7, 0.75],
    [0.0, 0.05, 0.15, 0.25, 0.35, 0.5, 0.6],
]

titles = [
    ["zz-b-AsNR", "H-zz-b-AsNR", "ac-b-AsNR", "H-ac-b-AsNR"],
    ["zz-p-AsNR", "H-zz-p-AsNR", "ac-p-AsNR", "H-ac-p-AsNR"],
    ["t-s/o-AsNR", "H-t-s/o-AsNR", "ac-s/o-AsNR", "H-ac-s/o-AsNR"],
]
elec_up = [[zz_b_up, h_zz_b_up, ac_b_up, h_ac_b_up],
           [zz_p_up, h_zz_p_up, ac_p_up, h_ac_p_up],
           [t_so_up, h_t_so_up, ac_so_up, h_ac_so_up]]
elec_dn = [[zz_b_dn, h_zz_b_dn, ac_b_dn, h_ac_b_dn],
           [zz_p_dn, h_zz_p_dn, ac_p_dn, h_ac_p_dn],
           [t_so_dn, h_t_so_dn, ac_so_dn, h_ac_so_dn]]
phonons = [[ph_zz_b, ph_h_zz_b, ph_ac_b, ph_h_ac_b],
           [ph_zz_p, ph_h_zz_p, ph_ac_p, ph_h_ac_p],
           [ph_t_so, ph_h_t_so, ph_ac_so, ph_h_ac_so]]

RED = "#ee2a2a"
BLUE = "#3a5cc0"
FS = 16

W, H = 639, 1277
fig = plt.figure(figsize=(W / 100, H / 100), dpi=100)

col_left = [71, 217, 362, 507]
row_top = [43, 257, 470, 683, 896, 1109]
pw, ph = 121, 142


def style_axes(ax, phonon):
    ax.set_xlim(0, 1)
    if phonon:
        ax.set_ylim(-2, 8)
        ax.yaxis.set_major_locator(MultipleLocator(2))
        ax.yaxis.set_minor_locator(MultipleLocator(1))
    else:
        ax.set_ylim(-2, 2)
        ax.yaxis.set_major_locator(MultipleLocator(1))
        ax.yaxis.set_minor_locator(MultipleLocator(0.5))
    ax.set_xticks([0, 1])
    ax.set_xticklabels(["Γ", "X"])
    ax.tick_params(axis="x", which="major", length=0, pad=2, labelsize=FS)
    if phonon:
        ax.set_xticks([0.17], minor=True)
        ax.tick_params(axis="x", which="minor", direction="in", length=8,
                       width=1.1, top=True, bottom=True)
    ax.tick_params(axis="y", which="major", direction="in", length=8, width=1.1,
                   left=True, right=True, labelsize=FS, pad=3)
    ax.tick_params(axis="y", which="minor", direction="in", length=4.5, width=1.1,
                   left=True, right=True)
    for s in ax.spines.values():
        s.set_linewidth(1.1)
    ax.axhline(0, color="black", lw=0.9, ls=(0, (1, 2.5)), zorder=1)


for r in range(6):
    phonon = r >= 3
    for c in range(4):
        x0 = col_left[c] / W
        y0 = 1 - (row_top[r] + ph) / H
        ax = fig.add_axes([x0, y0, pw / W, ph / H])
        style_axes(ax, phonon)
        if phonon:
            for band in phonons[r - 3][c]:
                ax.plot(K_PTS, band, color=RED, lw=1.1, zorder=2)
            if r == 3 and c == 0:
                ax.plot(zz_b_soft_k, zz_b_soft_f, color=RED, lw=1.7, zorder=2)
                ax.plot(zz_b_kink_k, zz_b_kink_f, color=RED, lw=1.1, zorder=2)
        else:
            for band in elec_up[r][c]:
                ax.plot(K_PTS, band, color=RED, lw=1.0, zorder=2)
            for band in elec_dn[r][c]:
                ax.plot(K_PTS, band, color=BLUE, lw=1.2, ls=(0, (4, 2)), zorder=3)
        ax.text(0.5, 1.15, titles[r % 3][c], transform=ax.transAxes,
                ha="center", va="center", fontsize=FS)
    ylabel = "f (THz)" if phonon else "E-E$_\\mathrm{F}$ (eV)"
    fig.text(23 / W, 1 - (row_top[r] + ph / 2) / H, ylabel, rotation=90,
             ha="center", va="center", fontsize=FS)

fig.savefig("out.png", dpi=100)
